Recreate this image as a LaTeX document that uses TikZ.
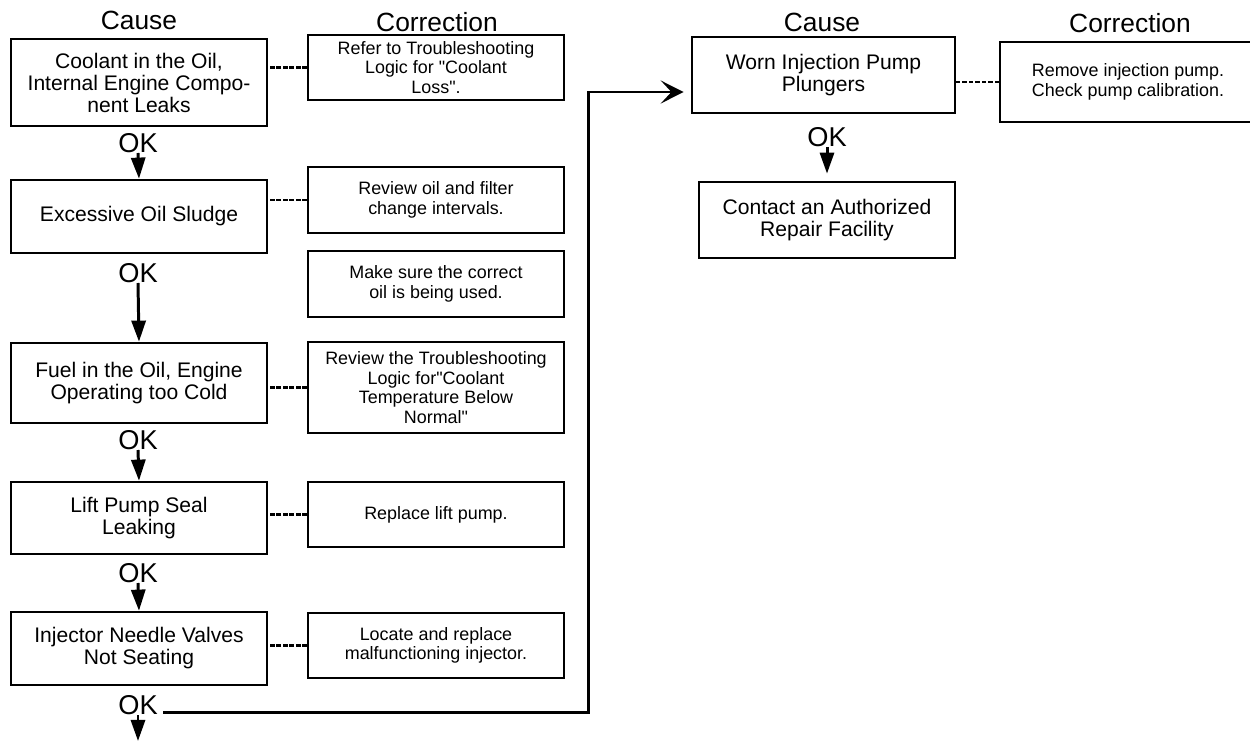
\documentclass[tikz,border=0pt]{standalone}
\usepackage{fontspec}
\setmainfont{Liberation Sans}[Ligatures=TeXOff]
\usetikzlibrary{arrows.meta,positioning}
\tikzset{
  causebox/.style={draw,line width=1.5pt,minimum width=5.12cm,minimum height=#1,align=center,inner sep=2pt,font=\fontsize{12}{12.5}\selectfont},
  causebox/.default=1.46cm,
  fixbox/.style={draw,line width=1.1pt,minimum width=5.12cm,minimum height=#1,align=center,inner sep=2pt,font=\fontsize{10.2}{11.2}\selectfont},
  fixbox/.default=1.3cm,
  hdr/.style={font=\fontsize{15}{15}\selectfont,inner sep=0pt},
  oklbl/.style={font=\fontsize{15.5}{15.5}\selectfont,inner sep=0pt},
  flow/.style={-{Triangle[length=12pt,width=8pt]},line width=1.7pt},
  entry/.style={-{Stealth[length=13pt,width=13pt,inset=6pt]},line width=1.7pt},
  tie/.style={dash pattern=on 2.6pt off 1.1pt,line width=1.4pt},
}
\begin{document}
\begin{tikzpicture}[x=0.02cm,y=-0.02cm]
    \clip (0,0) rectangle (1250,741);
    % headings
    \node[hdr] (hc1) at (139,20) {Cause};
    \node[hdr] (hf1) at (437,22) {Correction};
    \node[hdr] (hc2) at (822,22) {Cause};
    \node[hdr] (hf2) at (1130,23) {Correction};
    % causes, left column
    \node[causebox=1.74cm] (c1) at (139,82.5) {Coolant in the Oil,\\Internal Engine Compo-\\nent Leaks};
    \node[causebox=1.46cm] (c2) at (139,216.5) {Excessive Oil Sludge};
    \node[causebox=1.6cm] (c3) at (139,383) {Fuel in the Oil, Engine\\Operating too Cold};
    \node[causebox=1.44cm] (c4) at (139,518) {Lift Pump Seal\\Leaking};
    \node[causebox=1.46cm] (c5) at (139,648.5) {Injector Needle Valves\\Not Seating};
    % corrections, left column
    \node[fixbox=1.3cm] (r1) at (436,67.5) {Refer to Troubleshooting\\Logic for "Coolant\\Loss".};
    \node[fixbox=1.32cm] (r2) at (436,200) {Review oil and filter\\change intervals.};
    \node[fixbox=1.32cm] (r3) at (436,284) {Make sure the correct\\oil is being used.};
    \node[fixbox=1.82cm] (r4) at (436,387.5) {Review the Troubleshooting\\Logic for"Coolant\\Temperature Below\\Normal"};
    \node[fixbox=1.3cm] (r5) at (436,514.5) {Replace lift pump.};
    \node[fixbox=1.3cm] (r6) at (436,645.5) {Locate and replace\\malfunctioning injector.};
    \draw[tie] (r1.west) -- (r1.west -| c1.east);
    \draw[tie] (r2.west) -- (r2.west -| c2.east);
    \draw[tie] (r4.west) -- (r4.west -| c3.east);
    \draw[tie] (r5.west) -- (r5.west -| c4.east);
    \draw[tie] (r6.west) -- (r6.west -| c5.east);
    % OK steps
    \node[oklbl] (ok1) at (138,143) {OK};
    \node[oklbl] (ok2) at (138,273) {OK};
    \node[oklbl] (ok3) at (138,440) {OK};
    \node[oklbl] (ok4) at (138,573) {OK};
    \node[oklbl] (ok5) at (138,705) {OK};
    \coordinate (out) at (138,741);
    \draw[flow] (ok1.south) -- (c2.north);
    \draw[flow] (ok2.south) -- (c3.north);
    \draw[flow] (ok3.south) -- (c4.north);
    \draw[flow] (ok4.south) -- (c5.north);
    \draw[flow] (ok5.south) -- (out);
    % right column
    \node[causebox=1.52cm,minimum width=5.26cm] (w1) at (823.5,75) {Worn Injection Pump\\Plungers};
    \node[fixbox=1.6cm,align=left] (w2) at (1128,82) {Remove injection pump.\\Check pump calibration.};
    \node[causebox=1.52cm] (w3) at (827,220) {Contact an Authorized\\Repair Facility};
    \node[oklbl] (ok6) at (827,137) {OK};
    \draw[tie] (w2.west) -- (w2.west -| w1.east);
    \draw[flow,shorten >=4pt] (ok6.south) -- (w3.north);
    % jump across
    \coordinate (turn) at (588,92);
    \draw[entry,shorten >=4pt] ([xshift=3pt,yshift=-4pt]ok5.east) -| (turn) -- (turn -| w1.west);
\end{tikzpicture}
\end{document}
